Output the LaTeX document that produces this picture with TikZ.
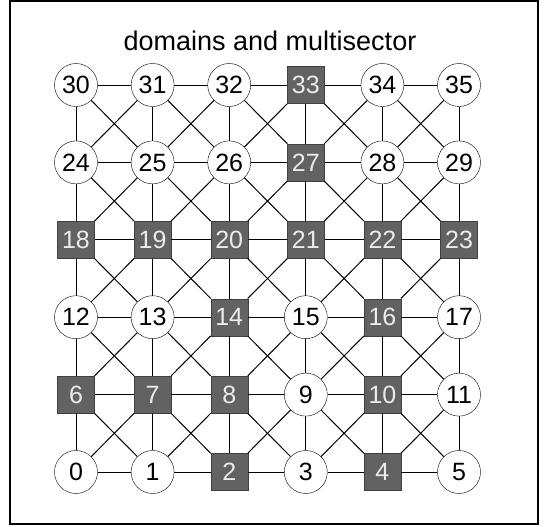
\documentclass[tikz,border=0pt]{standalone}
\usepackage{fontspec}
\setmainfont{Liberation Sans}
\definecolor{sepgray}{RGB}{98,98,98}
\tikzset{
	vertex/.style={
		draw,
		circle,
		fill=white,
		inner sep=0pt,
		minimum size=43pt,
		font=\fontsize{25}{28}\selectfont
	},
	sepvertex/.style={
		draw=black!75,
		rectangle,
		fill=sepgray,
		text=black!8,
		inner sep=0pt,
		minimum size=37pt,
		font=\fontsize{25}{28}\selectfont
	},
	edge/.style={
		black,
		line width=1pt
	}
}

\begin{document}
\begin{tikzpicture}[x=1pt, y=-1pt]
	\useasboundingbox (0,0) rectangle (546,527);
	\draw[line width=2pt] (10,1) rectangle (538,524);

	\node (title) at (270,41) {\fontsize{27}{31}\selectfont domains and multisector};

	% domain vertices
	\foreach \k in {0,1,3,5,9,11,12,13,15,17,24,25,26,28,29,30,31,32,34,35} {
		\pgfmathtruncatemacro\col{mod(\k,6)}
		\pgfmathtruncatemacro\row{div(\k,6)}
		\node[vertex] (n\k) at (76+76.6*\col, 472-77.4*\row) {\k};
	}

	% multisector vertices
	\foreach \k in {2,4,6,7,8,10,14,16,18,19,20,21,22,23,27,33} {
		\pgfmathtruncatemacro\col{mod(\k,6)}
		\pgfmathtruncatemacro\row{div(\k,6)}
		\node[sepvertex] (n\k) at (76+76.6*\col, 472-77.4*\row) {\k};
	}

	\begin{scope}[edge]
	% horizontal
	\foreach \row in {0,...,5} {
		\foreach \col in {0,...,4} {
			\pgfmathtruncatemacro\a{6*\row+\col}
			\pgfmathtruncatemacro\b{\a+1}
			\draw (n\a) -- (n\b);
		}
	}

	% vertical
	\foreach \row in {0,...,4} {
		\foreach \col in {0,...,5} {
			\pgfmathtruncatemacro\a{6*\row+\col}
			\pgfmathtruncatemacro\b{\a+6}
			\draw (n\a) -- (n\b);
		}
	}

	% diagonals
	\foreach \row in {0,...,4} {
		\foreach \col in {0,...,4} {
			\pgfmathtruncatemacro\a{6*\row+\col}
			\pgfmathtruncatemacro\b{\a+7}
			\pgfmathtruncatemacro\c{\a+1}
			\pgfmathtruncatemacro\d{\a+6}
			\draw (n\a) -- (n\b);
			\draw (n\c) -- (n\d);
		}
	}
	\end{scope}
\end{tikzpicture}
\end{document}
